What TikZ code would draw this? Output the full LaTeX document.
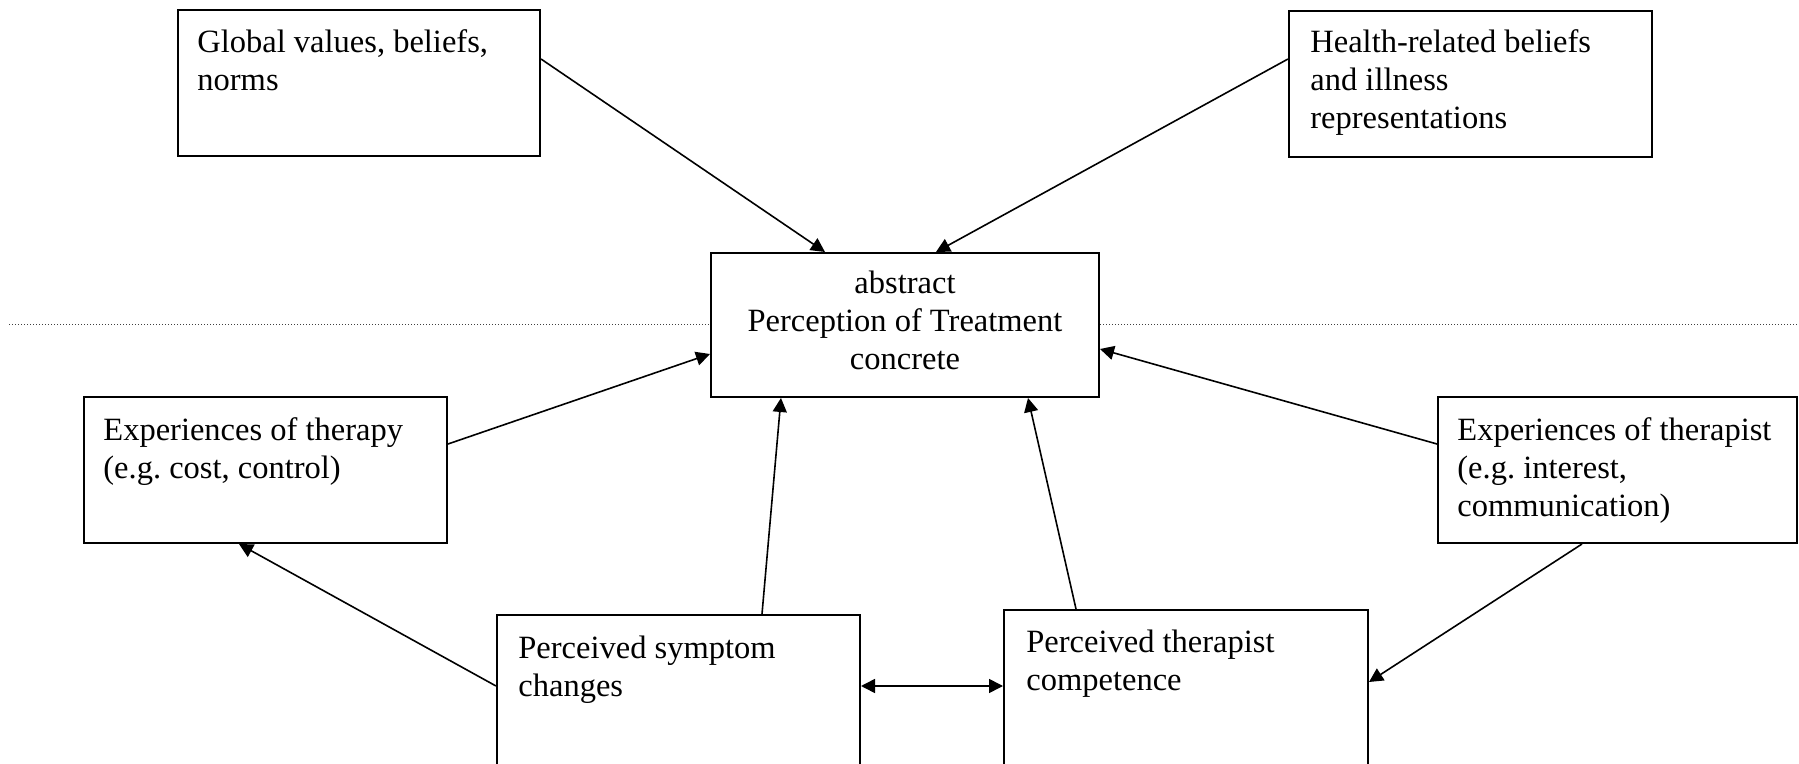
\documentclass[tikz,border=0pt]{standalone}
\usepackage{fontspec}
\setmainfont{Liberation Serif}
\usetikzlibrary{arrows.meta,calc,fit}

% text block whose baseline is that of its first line
\newcommand{\boxtext}[1]{\parbox[t]{170pt}{\raggedright #1}}
\newcommand{\midtext}[1]{\parbox[t]{190pt}{\centering #1}}

\begin{document}
\frenchspacing
\begin{tikzpicture}[
    x=0.5pt, y=-0.5pt,
    box/.style={draw=black, line width=1pt, inner sep=0pt, fill=none},
    txt/.style={inner sep=0pt, font=\fontsize{16.25pt}{19pt}\selectfont},
    link/.style={draw=black, line width=0.8pt, -{Triangle[length=7pt,width=7pt]}},
    both/.style={link, {Triangle[length=7pt,width=7pt]}-{Triangle[length=7pt,width=7pt]}},
    divider/.style={line width=0.5pt, black!75, dash pattern=on 0.5pt off 1pt}
  ]
  \useasboundingbox (0,0) rectangle (1799,764);
  \clip (0,0) rectangle (1799,764);
  \fill[white] (0,0) rectangle (1799,764);

  % boxes
  \node[box, fit={(178,10)(540,156)}] (glob) {};
  \node[box, fit={(1289,11)(1652,157)}] (health) {};
  \node[box, fit={(711,253)(1099,397)}] (treat) {};
  \node[box, fit={(84,397)(447,543)}] (exther) {};
  \node[box, fit={(1438,397)(1797,543)}] (expist) {};
  \node[box, fit={(497,615)(860,820)}] (symp) {};
  \node[box, fit={(1004,610)(1368,820)}] (comp) {};

  % abstract / concrete divider
  \coordinate (divL) at (9,325);
  \coordinate (divR) at (1799,325);
  \draw[divider] (divL) -- (treat.west |- divL);
  \draw[divider] (treat.east |- divR) -- (divR);

  % texts
  \node[txt, anchor=base west] (globtxt) at ($(glob.north west)+(20,44)$)
    {\boxtext{Global values, beliefs,\\ norms}};
  \node[txt, anchor=base west] (healthtxt) at ($(health.north west)+(22,43)$)
    {\boxtext{Health-related beliefs\\ and illness\\ representations}};
  \node[txt, anchor=base] (treattxt) at ($(treat.north)+(0,42)$)
    {\midtext{abstract\\ Perception of Treatment\\ concrete}};
  \node[txt, anchor=base west] (extxt) at ($(exther.north west)+(20,45)$)
    {\boxtext{Experiences of therapy\\ (e.g. cost, control)}};
  \node[txt, anchor=base west] (isttxt) at ($(expist.north west)+(20,45)$)
    {\boxtext{Experiences of therapist\\ (e.g. interest,\\ communication)}};
  \node[txt, anchor=base west] (symptxt) at ($(symp.north west)+(22,44)$)
    {\boxtext{Perceived symptom\\ changes}};
  \node[txt, anchor=base west] (comptxt) at ($(comp.north west)+(23,43)$)
    {\boxtext{Perceived therapist\\ competence}};

  % connectors
  \draw[link] ($(glob.north east)+(0,50)$) -- ($(treat.north west)+(115,0)$);
  \draw[link] ($(health.north west)+(0,49)$) -- ($(treat.north west)+(226,0)$);
  \draw[link] ($(exther.north east)+(0,48)$) -- ($(treat.north west)+(0,102)$);
  \draw[link] ($(expist.north west)+(0,48)$) -- ($(treat.north east)+(0,97)$);
  \draw[link] ($(symp.north west)+(266,0)$) -- ($(treat.south west)+(71,0)$);
  \draw[link] ($(comp.north west)+(73,0)$) -- ($(treat.south west)+(318,0)$);
  \draw[link] ($(symp.north west)+(0,72)$) -- ($(exther.south west)+(156,0)$);
  \draw[link] ($(expist.south west)+(145,0)$) -- ($(comp.north east)+(0,73)$);
  \draw[both] ($(symp.north east)+(0,72)$) -- ($(comp.north west)+(0,77)$);
\end{tikzpicture}
\end{document}
